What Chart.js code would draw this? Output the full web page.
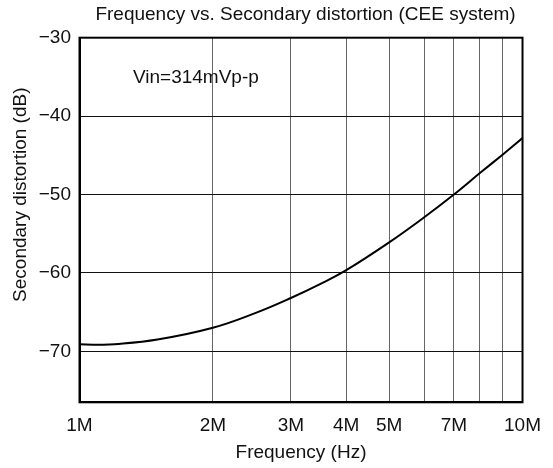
<!DOCTYPE html>
<html>
<head>
<meta charset="utf-8">
<script src="https://cdn.jsdelivr.net/npm/chart.js@4.4.1/dist/chart.umd.min.js"></script>
<style>
  html, body { margin: 0; padding: 0; background: #fff; }
  #wrap { width: 553px; height: 468px; position: relative; }
</style>
</head>
<body>
<div id="wrap"><canvas id="c" role="img" aria-label="Frequency vs. Secondary distortion"></canvas></div>
<script>
// values
const freqs = [1.0e6, 1.1e6, 1.2e6, 1.5e6, 2.0e6, 2.5e6, 3.0e6, 3.5e6, 4.0e6, 5.0e6, 6.0e6, 7.0e6, 8.0e6, 9.0e6, 10.0e6];
const distortion = [-69.1, -69.15, -69.1, -68.5, -67.0, -65.1, -63.2, -61.4, -59.65, -56.1, -52.9, -50.0, -47.3, -44.95, -42.8];

const xTicks = [1e6, 2e6, 3e6, 4e6, 5e6, 6e6, 7e6, 8e6, 9e6, 1e7];
const xTickLabels = ['1M', '2M', '3M', '4M', '5M', '', '7M', '', '', '10M'];
const yTicks = [-70, -60, -50, -40, -30];

const TITLE = 'Frequency vs. Secondary distortion (CEE system)';
const X_TITLE = 'Frequency (Hz)';
const Y_TITLE = 'Secondary distortion (dB)';
const NOTE = 'Vin=314mVp-p';
const NOTE_AT = { freq: 1.32e6, db: -35.1 };

const FONT = 'Liberation Sans, Arial, Helvetica, sans-serif';
const INK = '#111';

// full box round the plot, the title, the note and the side title
const framePlugin = {
  id: 'frame',
  afterDraw(chart) {
    const { ctx, chartArea: a, scales } = chart;
    ctx.save();
    ctx.strokeStyle = '#000';
    ctx.lineWidth = 2;
    ctx.strokeRect(a.left, a.top, a.right - a.left, a.bottom - a.top);

    ctx.fillStyle = INK;
    ctx.font = '19px ' + FONT;
    ctx.textBaseline = 'middle';

    ctx.textAlign = 'center';
    ctx.fillText(TITLE, (a.left + a.right) / 2 + 4.5, a.top - 23);

    ctx.textAlign = 'left';
    ctx.fillText(NOTE, scales.x.getPixelForValue(NOTE_AT.freq), scales.y.getPixelForValue(NOTE_AT.db));

    ctx.translate(a.left - 58.5, a.top + 157);
    ctx.rotate(-Math.PI / 2);
    ctx.textAlign = 'center';
    ctx.fillText(Y_TITLE, 0, 0);
    ctx.restore();
  }
};

new Chart(document.getElementById('c'), {
  type: 'line',
  data: {
    datasets: [{
      data: freqs.map((f, i) => ({ x: f, y: distortion[i] })),
      borderColor: '#000',
      borderWidth: 2,
      pointRadius: 0,
      tension: 0.4,
      fill: false
    }]
  },
  options: {
    responsive: true,
    maintainAspectRatio: false,
    animation: false,
    layout: { padding: { left: 0, right: 25.5, top: 37.7, bottom: 0 } },
    plugins: {
      legend: { display: false },
      tooltip: { enabled: false },
      title: { display: false }
    },
    scales: {
      x: {
        type: 'logarithmic',
        min: 1e6,
        max: 1e7,
        afterBuildTicks: s => { s.ticks = xTicks.map(v => ({ value: v })); },
        afterFit: s => { s.height = 65.7; },
        grid: { color: '#666', lineWidth: 1, drawTicks: false },
        border: { display: true, color: '#000', width: 2 },
        ticks: {
          autoSkip: false,
          maxRotation: 0,
          padding: 12,
          color: INK,
          font: { family: FONT, size: 19 },
          callback: (v, i) => xTickLabels[i]
        },
        title: {
          display: true,
          text: X_TITLE,
          color: INK,
          font: { family: FONT, size: 19 },
          padding: { top: 0, bottom: 3.6 }
        }
      },
      y: {
        min: -76.5,
        max: -30,
        afterBuildTicks: s => { s.ticks = yTicks.map(v => ({ value: v })); },
        afterFit: s => { s.width = 79.5; },
        grid: { color: '#111', lineWidth: 1, drawTicks: false },
        border: { display: true, color: '#000', width: 2 },
        ticks: {
          padding: 8.5,
          color: INK,
          font: { family: FONT, size: 19 },
          callback: v => '\u2212' + Math.abs(v)
        }
      }
    }
  },
  plugins: [framePlugin]
});
</script>
</body>
</html>
